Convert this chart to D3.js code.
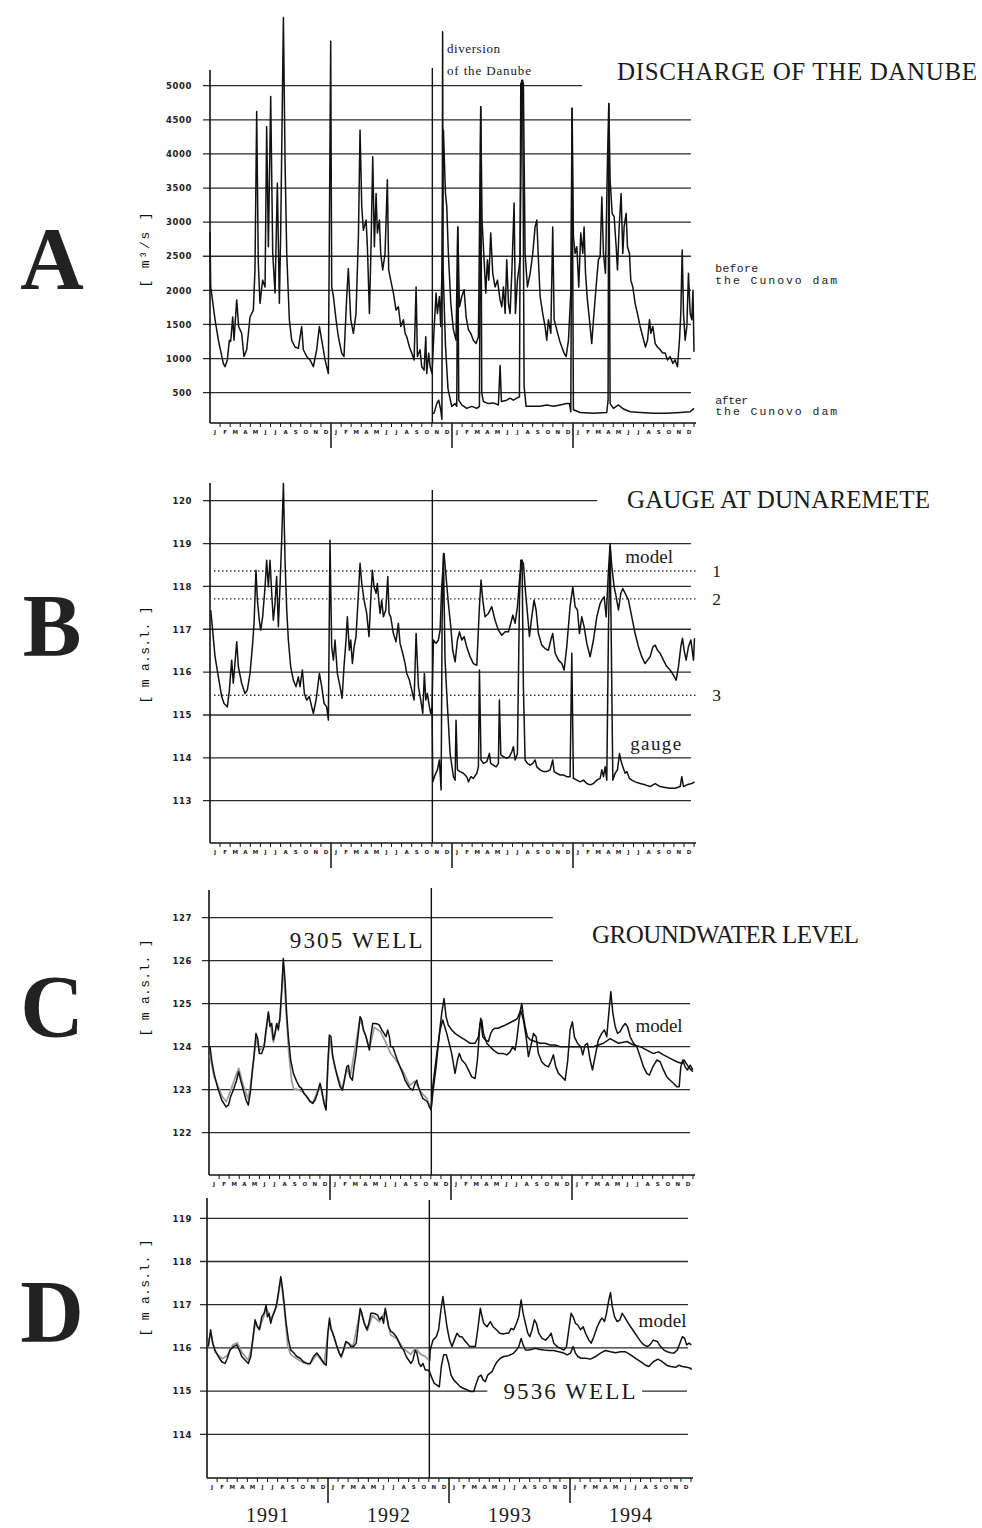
<!DOCTYPE html>
<html>
<head>
<meta charset="utf-8">
<script src="https://cdn.jsdelivr.net/npm/d3@7"></script>
<style>
  body { margin: 0; background: #fff; }
  svg { display: block; }
</style>
</head>
<body>
<svg id="fig" width="982" height="1528"></svg>
<script>
// Time is in months counted from January 1991 (0 .. 48).
var MONTHS = ['J', 'F', 'M', 'A', 'M', 'J', 'J', 'A', 'S', 'O', 'N', 'D'];
var YEARS = ['1991', '1992', '1993', '1994'];
var DIVERSION = 22.05;  // diversion of the Danube, late October 1992

// A: discharge of the Danube [m3/s]
var dischargeTicks = [500, 1000, 1500, 2000, 2500, 3000, 3500, 4000, 4500, 5000];
var dischargeBefore = [[0,2850],[0.07,2050],[0.5,1570],[0.83,1270],[1.32,930],[1.49,880],[1.72,980],[1.92,1270],[2.05,1250],[2.25,1610],[2.38,1270],[2.65,1860],[2.84,1470],[3.14,1370],[3.37,1030],[3.64,1130],[3.97,1610],[4.3,1710],[4.46,2300],[4.63,4620],[4.79,2400],[4.96,1810],[5.22,2150],[5.46,2050],[5.62,4400],[5.79,2640],[6.02,4840],[6.22,2540],[6.45,1960],[6.68,3570],[6.88,1810],[7.01,2840],[7.28,6000],[7.44,3910],[7.61,2540],[7.87,1570],[8.1,1270],[8.43,1170],[8.76,1150],[9.09,1470],[9.26,1130],[9.59,1030],[9.92,980],[10.25,880],[10.58,1130],[10.85,1470],[11.08,1270],[11.41,980],[11.74,780],[11.97,5650],[12.07,2050],[12.24,1910],[12.5,1570],[12.73,1320],[13.06,1080],[13.29,1030],[13.56,1910],[13.72,2320],[13.96,1570],[14.22,1370],[14.48,1660],[14.72,2790],[14.88,4350],[15.05,3230],[15.21,2880],[15.48,3030],[15.61,2640],[15.81,1660],[15.97,2640],[16.14,3960],[16.3,2640],[16.47,3420],[16.6,2840],[16.8,3030],[16.93,2540],[17.13,2300],[17.36,2540],[17.59,3620],[17.72,2300],[17.92,2150],[18.19,1960],[18.45,1710],[18.68,1760],[18.92,1470],[19.18,1570],[19.35,1370],[19.51,1320],[19.78,1170],[20.01,1080],[20.24,980],[20.44,2050],[20.57,1030],[20.83,1130],[21.0,880],[21.23,830],[21.4,1320],[21.49,780],[21.69,1080],[21.83,880],[22.02,780],[22.22,1420],[22.42,1960],[22.55,1660],[22.75,1910],[22.88,1470],[23.02,2400],[23.15,4350],[23.35,3420],[23.48,3230],[23.64,2540],[23.88,1810],[24.14,1420],[24.4,1270],[24.57,2930],[24.74,1760],[24.97,1910],[25.2,2010],[25.4,1610],[25.63,1420],[25.86,1370],[26.12,1270],[26.39,1220],[26.62,1320],[26.85,4690],[26.98,3030],[27.18,2450],[27.35,1960],[27.51,2450],[27.65,2150],[27.84,2840],[28.04,2250],[28.27,2050],[28.51,2150],[28.77,1860],[28.94,1760],[29.1,2050],[29.27,1660],[29.43,2450],[29.6,1810],[29.76,1660],[29.93,2250],[30.16,3280],[30.29,1660],[30.49,2150],[30.75,2450],[30.92,5080],[31.08,5030],[31.25,2540],[31.48,2050],[31.75,2250],[32.01,2540],[32.24,2930],[32.41,3030],[32.57,2450],[32.74,1910],[33.0,1660],[33.23,1470],[33.4,1270],[33.56,1570],[33.8,1370],[33.99,2930],[34.13,1570],[34.39,1420],[34.66,1270],[34.89,1170],[35.12,1080],[35.32,1030],[35.55,1270],[35.65,1570],[35.78,1960],[35.91,4670],[36.04,2790],[36.21,2540],[36.38,2640],[36.57,2050],[36.77,2840],[36.97,2540],[37.1,2930],[37.24,2250],[37.43,1860],[37.63,1570],[37.86,1220],[38.03,1570],[38.29,2050],[38.52,2450],[38.69,2490],[38.86,3370],[39.02,2540],[39.22,2250],[39.42,3910],[39.55,4740],[39.68,3620],[39.88,3130],[40.08,3080],[40.28,2640],[40.41,2300],[40.58,2930],[40.77,3420],[40.94,2540],[41.07,2930],[41.27,3130],[41.4,2640],[41.6,2540],[41.73,2150],[41.93,2050],[42.16,1810],[42.39,1660],[42.66,1470],[42.92,1320],[43.19,1170],[43.39,1270],[43.59,1570],[43.72,1370],[43.92,1470],[44.15,1220],[44.38,1170],[44.64,1130],[44.91,1080],[45.14,1080],[45.37,980],[45.63,1030],[45.9,930],[46.13,980],[46.36,880],[46.56,1270],[46.69,1660],[46.83,2590],[46.96,1660],[47.12,1270],[47.29,1470],[47.45,2250],[47.62,1660],[47.78,1570],[47.9,2000],[48.0,1100]];
var dischargeAfter = [[22.1,200],[22.22,200],[22.49,340],[22.68,390],[22.88,250],[23.0,110],[23.07,5790],[23.12,2300],[23.35,1200],[23.6,560],[23.97,300],[24.31,340],[24.47,300],[24.57,2930],[24.67,390],[24.97,320],[25.46,270],[25.96,300],[26.46,270],[26.72,300],[26.85,4690],[26.95,490],[27.12,370],[27.61,340],[28.11,350],[28.6,320],[28.77,900],[28.9,370],[29.43,390],[29.76,420],[30.09,390],[30.42,420],[30.69,440],[30.82,5030],[31.01,5080],[31.15,590],[31.35,300],[32.08,300],[32.74,300],[33.4,320],[34.06,300],[34.72,320],[35.38,340],[35.65,340],[35.78,220],[35.91,4670],[36.04,250],[36.71,210],[38.03,200],[39.35,210],[39.48,390],[39.55,4740],[39.68,340],[40.01,270],[40.51,320],[41.01,260],[41.67,220],[42.66,210],[43.98,200],[45.3,200],[46.63,210],[47.62,220],[48.0,270]];

// B: gauge at Dunaremete [m a.s.l.]
var gaugeTicks = [113, 114, 115, 116, 117, 118, 119, 120];
var gaugeLevels = [118.36, 117.71, 115.46];
var gaugeLevelNames = ['1', '2', '3'];
var gaugeMeasured = [[0.07,117.45],[0.26,116.98],[0.5,116.36],[0.83,115.89],[1.16,115.43],[1.39,115.27],[1.72,115.19],[1.92,115.58],[2.15,116.28],[2.31,115.74],[2.65,116.71],[2.81,116.13],[3.14,115.74],[3.47,115.5],[3.7,115.58],[3.97,115.97],[4.23,116.67],[4.37,117.14],[4.56,118.38],[4.7,117.68],[4.89,117.21],[5.03,116.98],[5.22,117.29],[5.46,117.99],[5.62,118.61],[5.79,117.99],[5.95,118.61],[6.12,117.84],[6.28,117.21],[6.45,117.6],[6.61,118.23],[6.78,117.06],[6.94,117.99],[7.11,119.08],[7.28,120.4],[7.44,118.61],[7.61,117.45],[7.77,116.75],[8.0,116.13],[8.27,115.81],[8.53,115.66],[8.76,115.89],[8.93,115.66],[9.16,116.05],[9.36,115.5],[9.59,115.35],[9.85,115.43],[10.09,115.19],[10.25,115.04],[10.52,115.35],[10.85,115.97],[11.08,115.66],[11.31,115.27],[11.57,115.19],[11.74,114.88],[11.9,119.08],[12.07,116.59],[12.24,116.28],[12.4,116.75],[12.63,115.97],[12.9,115.66],[13.1,115.39],[13.29,116.13],[13.49,116.75],[13.62,117.29],[13.82,116.51],[13.96,116.75],[14.12,116.2],[14.29,116.59],[14.48,116.83],[14.72,117.84],[14.88,118.54],[15.05,118.07],[15.28,117.68],[15.54,117.37],[15.77,116.83],[15.94,117.68],[16.1,118.38],[16.27,117.99],[16.47,117.84],[16.6,118.07],[16.73,117.68],[16.87,117.37],[17.03,117.68],[17.2,117.29],[17.43,117.45],[17.63,118.23],[17.76,117.37],[17.92,117.29],[18.19,116.9],[18.45,116.71],[18.68,117.14],[18.85,116.67],[19.11,116.44],[19.35,116.2],[19.51,115.97],[19.78,115.81],[20.01,115.58],[20.24,115.35],[20.44,116.9],[20.67,115.66],[20.9,115.35],[21.1,115.04],[21.26,115.97],[21.4,115.35],[21.56,115.5],[21.76,115.19],[21.89,115.04],[22.02,115.19],[22.09,113.44],[22.32,113.6],[22.55,113.72],[22.75,113.95],[22.92,113.25],[23.02,117.21],[23.15,118.77],[23.31,116.28],[23.48,115.5],[23.81,114.1],[24.14,113.56],[24.31,113.48],[24.4,114.88],[24.54,113.72],[24.8,113.68],[25.13,113.64],[25.46,113.56],[25.63,113.44],[25.86,113.56],[26.12,113.52],[26.46,113.64],[26.62,113.79],[26.72,116.05],[26.88,113.95],[27.12,113.87],[27.45,113.91],[27.71,114.1],[27.84,113.87],[28.11,113.83],[28.37,113.79],[28.6,113.87],[28.7,115.35],[28.84,114.07],[29.1,114.03],[29.43,113.99],[29.7,114.03],[29.93,114.14],[30.09,114.26],[30.26,113.95],[30.49,114.1],[30.69,117.68],[30.82,118.61],[30.95,118.61],[31.08,115.66],[31.25,113.95],[31.48,113.87],[31.75,113.83],[32.01,113.87],[32.24,113.95],[32.41,113.79],[32.74,113.72],[33.07,113.68],[33.4,113.68],[33.73,113.72],[33.99,113.95],[34.13,113.68],[34.39,113.64],[34.72,113.6],[35.05,113.6],[35.38,113.56],[35.71,113.56],[35.88,116.44],[36.04,113.52],[36.38,113.48],[36.71,113.44],[37.04,113.48],[37.37,113.4],[37.7,113.37],[38.03,113.4],[38.36,113.48],[38.69,113.52],[38.86,113.72],[39.02,113.56],[39.19,113.79],[39.35,113.48],[39.52,117.06],[39.68,118.93],[39.78,117.06],[39.95,113.48],[40.18,113.64],[40.41,113.72],[40.61,114.1],[40.74,113.95],[40.94,113.79],[41.17,113.64],[41.34,113.68],[41.6,113.52],[41.83,113.48],[42.16,113.44],[42.66,113.4],[43.15,113.37],[43.65,113.33],[44.15,113.4],[44.64,113.33],[45.14,113.31],[45.63,113.29],[46.13,113.29],[46.63,113.33],[46.79,113.56],[46.96,113.33],[47.29,113.37],[47.78,113.4],[48.05,113.44]];
var gaugeModel = [[22.02,115.19],[22.16,116.75],[22.42,116.67],[22.65,116.75],[22.82,116.98],[22.98,117.99],[23.21,118.77],[23.41,118.23],[23.64,117.6],[23.88,117.06],[24.07,116.51],[24.31,116.24],[24.54,116.75],[24.74,116.94],[24.97,116.75],[25.2,116.83],[25.46,116.59],[25.79,116.36],[26.12,116.2],[26.46,116.16],[26.72,117.53],[26.88,118.15],[27.05,117.68],[27.28,117.29],[27.61,117.37],[27.94,117.53],[28.27,117.21],[28.6,116.98],[28.94,116.86],[29.27,116.94],[29.6,116.94],[29.83,117.14],[30.03,117.33],[30.26,117.14],[30.49,117.53],[30.69,118.15],[30.92,118.61],[31.08,118.54],[31.25,117.99],[31.48,117.37],[31.68,116.83],[31.91,117.29],[32.14,117.68],[32.34,117.45],[32.57,116.9],[32.9,116.63],[33.23,116.55],[33.56,116.51],[33.8,116.75],[33.99,116.9],[34.23,116.44],[34.56,116.28],[34.89,116.2],[35.12,116.05],[35.38,116.59],[35.71,117.53],[35.98,117.99],[36.21,117.53],[36.44,117.45],[36.64,116.9],[36.87,117.29],[37.1,117.06],[37.37,116.67],[37.7,116.36],[38.03,116.75],[38.36,117.29],[38.69,117.6],[38.86,117.68],[39.09,117.76],[39.29,117.29],[39.52,118.38],[39.68,119.0],[39.85,118.46],[40.08,117.99],[40.28,117.76],[40.51,117.45],[40.74,117.84],[40.94,117.95],[41.17,117.84],[41.5,117.68],[41.83,117.29],[42.16,116.9],[42.49,116.59],[42.82,116.36],[43.15,116.2],[43.39,116.28],[43.65,116.36],[43.92,116.59],[44.15,116.63],[44.38,116.51],[44.64,116.44],[44.97,116.28],[45.3,116.13],[45.63,116.05],[45.96,115.93],[46.23,115.81],[46.46,116.13],[46.69,116.59],[46.86,116.79],[47.02,116.51],[47.22,116.28],[47.45,116.59],[47.69,116.75],[47.95,116.28],[48.05,116.79]];

// C: groundwater level, well 9305 [m a.s.l.]
var well9305Ticks = [122, 123, 124, 125, 126, 127];
var well9305 = [[0.1,124.0],[0.26,123.69],[0.5,123.38],[0.83,123.07],[1.26,122.76],[1.69,122.6],[1.92,122.64],[2.15,122.84],[2.41,122.99],[2.74,123.22],[2.94,123.42],[3.14,123.22],[3.41,122.99],[3.67,122.76],[3.9,122.64],[4.13,122.99],[4.3,123.46],[4.46,123.77],[4.66,124.31],[4.83,124.19],[4.99,123.84],[5.22,123.84],[5.46,124.0],[5.65,124.39],[5.89,124.81],[6.05,124.47],[6.22,124.54],[6.38,124.16],[6.55,124.31],[6.71,124.54],[6.88,124.39],[7.04,124.7],[7.21,125.32],[7.37,126.05],[7.54,125.55],[7.7,124.78],[7.87,124.23],[8.1,123.69],[8.37,123.38],[8.7,123.19],[8.96,123.07],[9.19,123.03],[9.42,122.91],[9.69,122.84],[10.02,122.72],[10.28,122.68],[10.52,122.76],[10.75,122.91],[11.01,123.15],[11.18,122.99],[11.41,122.68],[11.61,122.53],[11.77,123.53],[11.94,124.27],[12.1,124.23],[12.27,123.77],[12.5,123.53],[12.73,123.3],[13.0,123.07],[13.23,122.99],[13.43,123.22],[13.66,123.53],[13.82,123.57],[13.99,123.3],[14.22,123.22],[14.38,123.53],[14.58,123.84],[14.81,124.31],[14.98,124.7],[15.15,124.62],[15.31,124.39],[15.58,124.23],[15.74,124.08],[15.91,123.92],[16.04,124.23],[16.24,124.54],[16.47,124.54],[16.7,124.53],[16.9,124.5],[17.13,124.39],[17.36,124.31],[17.56,124.23],[17.72,124.39],[17.89,124.23],[18.02,124.0],[18.22,124.0],[18.45,123.84],[18.68,123.69],[18.95,123.53],[19.21,123.38],[19.44,123.22],[19.71,123.11],[19.94,123.03],[20.21,122.99],[20.44,123.15],[20.6,123.22],[20.77,123.07],[21.0,122.91],[21.2,122.8],[21.43,122.76],[21.66,122.72],[21.86,122.6],[22.02,122.53],[22.19,122.91],[22.52,123.53],[22.85,124.31],[23.08,124.78],[23.31,125.12],[23.51,124.7],[23.74,124.5],[24.07,124.39],[24.4,124.31],[24.9,124.23],[25.4,124.16],[25.89,124.08],[26.39,124.08],[26.72,124.23],[26.95,124.66],[27.15,124.23],[27.38,124.16],[27.71,124.12],[27.94,124.31],[28.14,124.39],[28.37,124.43],[28.7,124.43],[29.03,124.47],[29.37,124.5],[29.7,124.54],[30.03,124.58],[30.36,124.62],[30.59,124.66],[30.85,124.81],[31.02,125.01],[31.18,124.7],[31.35,124.47],[31.58,124.23],[31.85,124.16],[32.34,124.12],[32.84,124.08],[33.33,124.08],[33.83,124.04],[34.33,124.04],[34.82,124.0],[35.48,124.0],[36.48,124.0],[38.13,124.0],[39.12,124.08],[39.78,124.19],[40.61,124.08],[41.44,124.12],[42.1,124.04],[42.76,124.0],[43.42,123.92],[44.08,123.84],[44.58,123.88],[45.07,123.81],[45.73,123.73],[46.39,123.65],[46.89,123.61],[47.12,123.69],[47.55,123.53],[47.98,123.42]];
var well9305ModelPre = [[0.1,123.8],[0.5,123.3],[1.3,122.85],[1.7,122.72],[2.1,122.95],[2.7,123.35],[2.95,123.5],[3.4,123.1],[3.9,122.78],[4.3,123.4],[4.66,124.2],[5.0,123.9],[5.5,124.05],[5.9,124.75],[6.4,124.1],[6.7,124.5],[7.04,124.6],[7.37,125.9],[7.6,125.0],[7.9,123.9],[8.2,123.2],[8.4,123.02],[8.9,123.0],[9.4,122.93],[10.0,122.75],[10.3,122.7],[11.0,123.1],[11.6,122.55],[11.94,124.2],[12.5,123.5],[13.2,123.0],[13.66,123.5],[14.0,123.3],[14.98,124.65],[15.6,124.2],[15.9,123.95],[16.4,124.45],[17.0,124.35],[17.5,124.12],[18.0,123.85],[18.5,123.7],[19.2,123.45],[19.9,123.1],[20.4,123.2],[21.0,122.95],[21.6,122.8],[22.02,122.55]];
var well9305Model = [[22.02,122.53],[22.19,123.07],[22.59,123.84],[22.92,124.39],[23.18,124.62],[23.58,124.31],[24.07,123.84],[24.4,123.38],[24.64,123.69],[24.83,123.84],[25.07,123.69],[25.4,123.61],[25.73,123.46],[26.06,123.3],[26.39,123.26],[26.62,123.69],[26.88,124.54],[27.05,124.62],[27.22,124.31],[27.55,124.08],[27.88,124.0],[28.21,123.92],[28.7,123.84],[29.2,123.84],[29.53,123.81],[29.86,123.88],[30.13,124.0],[30.36,123.92],[30.52,124.16],[30.75,124.62],[30.92,124.85],[31.18,124.62],[31.45,124.23],[31.68,123.77],[31.91,124.0],[32.18,124.31],[32.44,124.23],[32.67,123.84],[33.0,123.65],[33.33,123.57],[33.66,123.53],[33.9,123.65],[34.16,123.81],[34.39,123.53],[34.66,123.38],[34.99,123.3],[35.32,123.22],[35.58,123.69],[35.81,124.39],[36.04,124.58],[36.24,124.23],[36.54,124.08],[36.87,124.0],[37.07,123.81],[37.3,124.04],[37.53,124.08],[37.8,123.69],[38.03,123.46],[38.29,123.77],[38.62,124.16],[38.95,124.31],[39.22,124.39],[39.45,124.23],[39.65,124.78],[39.85,125.28],[40.05,124.78],[40.28,124.47],[40.51,124.31],[40.77,124.35],[41.04,124.47],[41.27,124.54],[41.5,124.47],[41.77,124.23],[42.1,124.08],[42.43,124.0],[42.76,123.77],[43.09,123.53],[43.42,123.38],[43.68,123.34],[44.01,123.53],[44.41,123.69],[44.74,123.65],[45.07,123.46],[45.4,123.3],[45.73,123.22],[46.06,123.15],[46.39,123.07],[46.63,123.07],[46.79,123.53],[46.99,123.69],[47.22,123.53],[47.45,123.46],[47.72,123.57],[47.98,123.46]];

// D: groundwater level, well 9536 [m a.s.l.]
var well9536Ticks = [114, 115, 116, 117, 118, 119];
var well9536 = [[0.13,116.03],[0.36,116.42],[0.56,116.11],[0.79,115.95],[1.13,115.8],[1.46,115.68],[1.79,115.64],[2.02,115.76],[2.28,115.95],[2.62,116.03],[2.95,116.07],[3.21,115.95],[3.44,115.8],[3.77,115.72],[4.1,115.64],[4.34,115.8],[4.53,116.18],[4.77,116.65],[5.0,116.49],[5.2,116.42],[5.43,116.72],[5.66,116.8],[5.86,116.99],[5.99,116.72],[6.16,116.8],[6.32,116.57],[6.49,116.72],[6.75,116.88],[6.92,117.03],[7.12,117.34],[7.32,117.65],[7.51,117.34],[7.65,117.03],[7.85,116.57],[8.08,116.18],[8.31,115.95],[8.64,115.88],[8.9,115.8],[9.24,115.76],[9.57,115.68],[9.9,115.64],[10.23,115.64],[10.56,115.8],[10.89,115.88],[11.16,115.8],[11.39,115.72],[11.62,115.64],[11.82,115.6],[11.98,116.34],[12.15,116.69],[12.31,116.42],[12.48,116.34],[12.71,116.18],[12.88,116.03],[13.11,115.88],[13.31,115.8],[13.54,115.95],[13.77,116.15],[14.04,116.11],[14.27,116.03],[14.53,116.03],[14.8,116.11],[15.03,116.57],[15.19,116.92],[15.36,116.8],[15.59,116.57],[15.86,116.42],[16.05,116.57],[16.25,116.8],[16.45,116.8],[16.68,116.79],[16.92,116.76],[17.11,116.65],[17.35,116.72],[17.51,116.57],[17.68,116.92],[17.84,116.72],[18.01,116.49],[18.24,116.38],[18.5,116.34],[18.77,116.26],[19.0,116.15],[19.23,116.03],[19.5,115.95],[19.76,115.8],[19.99,115.72],[20.23,115.64],[20.42,115.72],[20.66,115.95],[20.82,115.88],[21.02,115.64],[21.22,115.57],[21.42,115.64],[21.65,115.49],[21.88,115.49],[22.08,115.45],[22.31,115.3],[22.54,115.18],[22.81,115.14],[23.04,115.1],[23.24,115.57],[23.47,115.84],[23.73,115.84],[23.97,115.64],[24.2,115.37],[24.46,115.26],[24.79,115.18],[25.12,115.1],[25.46,115.06],[25.79,115.03],[26.12,114.99],[26.45,114.99],[26.71,115.18],[26.94,115.33],[27.18,115.37],[27.38,115.26],[27.61,115.22],[27.84,115.37],[28.04,115.41],[28.27,115.45],[28.5,115.57],[28.77,115.68],[29.1,115.76],[29.43,115.8],[29.76,115.81],[30.09,115.84],[30.42,115.88],[30.69,115.95],[30.92,116.03],[31.15,116.22],[31.35,116.07],[31.58,115.95],[31.91,115.95],[32.24,115.97],[32.57,115.99],[32.9,115.97],[33.4,115.95],[33.9,115.94],[34.39,115.94],[34.89,115.91],[35.39,115.88],[35.72,115.84],[36.05,115.88],[36.31,116.03],[36.54,115.88],[36.78,115.8],[37.11,115.76],[37.54,115.76],[38.03,115.74],[38.53,115.8],[39.03,115.88],[39.52,115.94],[40.02,115.91],[40.52,115.89],[41.01,115.91],[41.51,115.91],[42.01,115.84],[42.5,115.76],[43.0,115.68],[43.49,115.6],[43.82,115.57],[44.26,115.68],[44.72,115.74],[45.15,115.68],[45.58,115.6],[45.98,115.57],[46.47,115.55],[46.8,115.6],[47.14,115.57],[47.57,115.55],[47.97,115.53],[48.05,115.49]];
var well9536ModelPre = [[0.13,116.1],[0.36,116.35],[0.8,115.9],[1.5,115.75],[2.0,115.82],[2.6,116.08],[3.0,116.12],[3.5,115.88],[4.1,115.72],[4.5,116.1],[4.77,116.55],[5.2,116.45],[5.66,116.75],[5.86,116.95],[6.3,116.65],[6.9,116.95],[7.32,117.6],[7.65,116.95],[8.0,116.05],[8.3,115.85],[8.9,115.75],[9.6,115.65],[10.2,115.62],[10.9,115.85],[11.6,115.62],[12.15,116.6],[12.7,116.15],[13.3,115.78],[13.8,116.12],[14.5,116.05],[15.19,116.85],[15.9,116.4],[16.4,116.75],[17.1,116.6],[17.68,116.85],[18.2,116.3],[18.8,116.22],[19.5,115.98],[20.2,115.85],[20.66,116.0],[21.2,115.85],[21.65,115.8],[22.08,115.7]];
var well9536Model = [[22.08,115.7],[22.14,115.95],[22.41,116.18],[22.74,116.26],[22.97,116.42],[23.2,116.88],[23.4,117.19],[23.57,116.88],[23.8,116.49],[24.06,116.18],[24.3,116.03],[24.53,116.18],[24.79,116.34],[25.06,116.26],[25.29,116.26],[25.52,116.18],[25.79,116.11],[26.05,116.03],[26.28,116.03],[26.61,116.03],[26.85,116.42],[27.11,116.92],[27.28,116.72],[27.44,116.57],[27.77,116.49],[28.1,116.61],[28.37,116.49],[28.7,116.42],[29.03,116.34],[29.36,116.32],[29.69,116.34],[29.92,116.34],[30.16,116.45],[30.42,116.42],[30.69,116.57],[30.92,116.72],[31.15,117.11],[31.35,116.8],[31.58,116.57],[31.81,116.34],[32.01,116.26],[32.24,116.42],[32.47,116.65],[32.67,116.57],[32.9,116.34],[33.23,116.22],[33.57,116.18],[33.9,116.26],[34.13,116.34],[34.39,116.11],[34.72,116.03],[35.05,115.99],[35.39,115.95],[35.65,116.03],[35.88,116.42],[36.11,116.8],[36.31,116.72],[36.54,116.57],[36.78,116.53],[37.04,116.42],[37.31,116.49],[37.54,116.34],[37.87,116.18],[38.1,116.11],[38.36,116.26],[38.7,116.49],[39.03,116.65],[39.19,116.69],[39.42,116.61],[39.62,116.8],[39.85,117.11],[40.02,117.28],[40.19,116.96],[40.42,116.72],[40.68,116.61],[40.95,116.65],[41.18,116.8],[41.41,116.72],[41.68,116.61],[42.01,116.49],[42.34,116.38],[42.67,116.26],[43.0,116.15],[43.33,116.07],[43.66,116.03],[43.92,116.07],[44.26,116.18],[44.65,116.15],[44.99,116.03],[45.31,115.95],[45.65,115.91],[45.98,115.89],[46.31,115.88],[46.64,115.95],[46.9,116.11],[47.14,116.26],[47.37,116.22],[47.57,116.07],[47.8,116.11],[48.03,116.07]];

var svg = d3.select('#fig');
var SERIF = '"Liberation Serif", "Times New Roman", serif';
var MONO = '"Liberation Mono", "Courier New", monospace';
var TICKFONT = '"DejaVu Sans", sans-serif';

var panels = [
  {letter: 'A', letterY: 288, left: 210, top: 70, base: 423, divTop: 68,
   domain: [0, 5000], range: [426.8, 85.7], ticks: dischargeTicks,
   unit: '[ m\u00b3/s ]', unitY: 250, unitLen: 75,
   shortGrid: {5000: [[-0.7, 36.9]]},
   series: [{data: dischargeBefore}, {data: dischargeAfter}]},
  {letter: 'B', letterY: 655, left: 210, top: 483, base: 843, divTop: 490,
   domain: [113, 120], range: [800.7, 500.7], ticks: gaugeTicks,
   unit: '[ m a.s.l. ]', unitY: 655, unitLen: 97,
   shortGrid: {120: [[-0.7, 38.4]]},
   series: [{data: gaugeMeasured}, {data: gaugeModel}]},
  {letter: 'C', letterY: 1036, left: 209, top: 890, base: 1175, divTop: 888,
   domain: [122, 127], range: [1132.7, 917.7], ticks: well9305Ticks,
   unit: '[ m a.s.l. ]', unitY: 988, unitLen: 97,
   shortGrid: {126: [[-0.7, 34.1]], 127: [[-0.7, 34.1]]},
   series: [{data: well9305ModelPre, color: '#9a9a9a'}, {data: well9305}, {data: well9305Model}]},
  {letter: 'D', letterY: 1341, left: 207, top: 1198, base: 1478, divTop: 1200,
   domain: [114, 119], range: [1434.3, 1218.3], ticks: well9536Ticks,
   unit: '[ m a.s.l. ]', unitY: 1288, unitLen: 97,
   shortGrid: {115: [[-0.7, 27.8], [43.15, 47.6]]},
   series: [{data: well9536ModelPre, color: '#9a9a9a'}, {data: well9536}, {data: well9536Model}]}
];

panels.forEach(function(p) {
  p.x = d3.scaleLinear().domain([0, 48]).range([p.left, p.left + 484]);
  p.y = d3.scaleLinear().domain(p.domain).range(p.range);
  var g = svg.append('g').attr('class', 'panel-' + p.letter);

  // horizontal grid, some lines cut short by the titles
  p.ticks.forEach(function(v) {
    var spans = p.shortGrid[v] || [[-0.7, 47.7]];
    spans.forEach(function(s) {
      g.append('line')
          .attr('x1', p.x(s[0])).attr('x2', p.x(s[1]))
          .attr('y1', p.y(v)).attr('y2', p.y(v))
          .attr('stroke', '#2a2a2a').attr('stroke-width', 1.3);
    });
  });

  var yAxis = d3.axisLeft(p.y).tickValues(p.ticks).tickSize(0).tickPadding(0)
      .tickFormat(d3.format('d'));
  var ag = g.append('g').attr('transform', 'translate(192,0)').call(yAxis);
  ag.select('.domain').remove();
  ag.selectAll('text')
      .attr('font-family', TICKFONT).attr('font-weight', 'bold')
      .attr('font-size', 8.5).attr('fill', '#222').attr('letter-spacing', 0.6);

  // y axis and the month strip
  g.append('line')
      .attr('x1', p.x(0)).attr('x2', p.x(0))
      .attr('y1', p.top).attr('y2', p.base)
      .attr('stroke', '#111').attr('stroke-width', 1.6);
  g.append('line')
      .attr('x1', p.x(0)).attr('x2', p.x(48.2))
      .attr('y1', p.base).attr('y2', p.base)
      .attr('stroke', '#111').attr('stroke-width', 1.4);

  var months = d3.range(1, 49);
  g.selectAll('line.mtick').data(months).enter().append('line')
      .attr('class', 'mtick')
      .attr('x1', function(m) { return p.x(m); })
      .attr('x2', function(m) { return p.x(m); })
      .attr('y1', p.base)
      .attr('y2', function(m) { return (m % 12 === 0 && m < 48) ? p.base + 25 : p.base + 4; })
      .attr('stroke', '#111')
      .attr('stroke-width', function(m) { return (m % 12 === 0 && m < 48) ? 1.5 : 1; });
  g.selectAll('text.mlabel').data(d3.range(48)).enter().append('text')
      .attr('class', 'mlabel')
      .attr('x', function(m) { return p.x(m + 0.5); })
      .attr('y', p.base + 11)
      .attr('text-anchor', 'middle')
      .attr('font-family', TICKFONT).attr('font-weight', 'bold')
      .attr('font-size', 5.5).attr('fill', '#222')
      .text(function(m) { return MONTHS[m % 12]; });

  // diversion of the Danube
  g.append('line')
      .attr('x1', p.x(DIVERSION)).attr('x2', p.x(DIVERSION))
      .attr('y1', p.divTop).attr('y2', p.base)
      .attr('stroke', '#111').attr('stroke-width', 1.4);

  var line = d3.line()
      .x(function(d) { return p.x(d[0]); })
      .y(function(d) { return p.y(d[1]); });
  p.series.forEach(function(s) {
    g.append('path')
        .attr('d', line(s.data))
        .attr('fill', 'none')
        .attr('stroke', s.color || '#111')
        .attr('stroke-width', s.color ? 1.7 : 1.5)
        .attr('stroke-linejoin', 'round');
  });

  // panel letter and unit label
  svg.append('text')
      .attr('x', 52).attr('y', p.letterY)
      .attr('text-anchor', 'middle')
      .attr('font-family', SERIF).attr('font-weight', 'bold')
      .attr('font-size', 88).attr('fill', '#222')
      .text(p.letter);
  svg.append('text')
      .attr('transform', 'translate(149,' + p.unitY + ') rotate(-90)')
      .attr('text-anchor', 'middle')
      .attr('font-family', MONO).attr('font-size', 13).attr('fill', '#111')
      .attr('textLength', p.unitLen).attr('lengthAdjust', 'spacing')
      .text(p.unit);
});

function label(txt, x, y, opts) {
  var t = svg.append('text')
      .attr('x', x).attr('y', y)
      .attr('font-family', opts.font || SERIF)
      .attr('font-size', opts.size)
      .attr('fill', '#1a1a1a')
      .text(txt);
  if (opts.len) t.attr('textLength', opts.len).attr('lengthAdjust', 'spacing');
  if (opts.anchor) t.attr('text-anchor', opts.anchor);
  return t;
}

var A = panels[0], B = panels[1], C = panels[2], D = panels[3];

// titles
label('DISCHARGE OF THE DANUBE', 617, 80, {size: 25, len: 360});
label('GAUGE AT DUNAREMETE', 627, 508, {size: 25, len: 303});
label('GROUNDWATER LEVEL', 592, 943, {size: 25, len: 267});

// panel A annotations
label('diversion', A.x(23.5), A.y(5480), {size: 13, len: 53});
label('of the Danube', A.x(23.5), A.y(5160), {size: 13, len: 84});
label('before', A.x(50.1), A.y(2270), {font: MONO, size: 11.5, len: 43});
label('the Cunovo dam', A.x(50.1), A.y(2270) + 12, {font: MONO, size: 11.5, len: 122});
label('after', A.x(50.1), A.y(330), {font: MONO, size: 11.5, len: 33});
label('the Cunovo dam', A.x(50.1), A.y(330) + 11, {font: MONO, size: 11.5, len: 122});

// panel B: scenario lines 1-3 and labels
gaugeLevels.forEach(function(v, i) {
  svg.append('line')
      .attr('x1', B.x(0.4)).attr('x2', B.x(48.3))
      .attr('y1', B.y(v)).attr('y2', B.y(v))
      .attr('stroke', '#222').attr('stroke-width', 1.4)
      .attr('stroke-dasharray', '1.4,2.6');
  label(gaugeLevelNames[i], B.x(49.8), B.y(v) + 6, {size: 17.5});
});
label('model', B.x(41.17), B.y(118.55), {size: 19, len: 48});
label('gauge', B.x(41.67), B.y(114.18), {size: 19, len: 51});

// panel C
label('9305 WELL', C.x(8.0), C.y(126.3), {size: 23, len: 133});
label('model', C.x(42.3), C.y(124.35), {size: 19, len: 47});

// panel D
label('9536 WELL', D.x(29.4), D.y(115) + 8, {size: 23, len: 132});
label('model', D.x(42.8), D.y(116.49), {size: 19, len: 48});

// years under the last panel
YEARS.forEach(function(yr, i) {
  label(yr, D.x(i * 12 + 6), D.base + 44, {size: 20, anchor: 'middle', len: 43});
});
</script>
</body>
</html>
